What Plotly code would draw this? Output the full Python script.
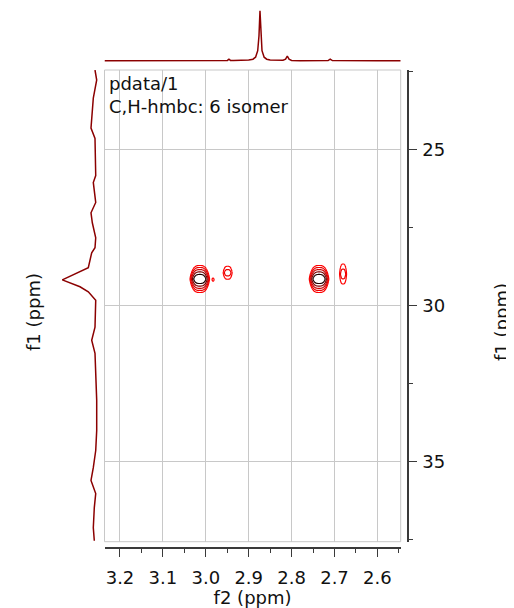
import numpy as np
import plotly.graph_objects as go

# page is 514x608; the html body adds an 8px margin, so the figure is drawn 8px in
OFF = 8
W, H = 514 - OFF, 608 - OFF

# ---------------- data ----------------
f2_range = [3.2361, 2.5457]          # ppm, left -> right
f1_range = [37.56, 22.46]            # ppm, bottom -> top

# 2D cross peaks (centre f2, centre f1, amplitude, width f2, width f1)
peak_f2 = [3.014, 2.736, 2.949, 2.680, 2.983]
peak_f1 = [29.15, 29.15, 28.95, 28.99, 29.17]
peak_amp = [1.0, 1.0, 0.12, 0.12, 0.06]
peak_wf2 = [0.0156, 0.0156, 0.0105, 0.0082, 0.0035]
peak_wf1 = [0.181, 0.181, 0.211, 0.325, 0.125]

contour_levels = [0.045, 0.081, 0.146, 0.262, 0.472, 0.85]

# top (f2) projection
top_ppm = [3.2361, 3.10, 3.00, 2.960, 2.9495, 2.946, 2.9425, 2.935, 2.920, 2.900,
           2.890, 2.884, 2.879, 2.876, 2.8737, 2.8715, 2.869, 2.864, 2.858, 2.850,
           2.835, 2.820, 2.814, 2.810, 2.806, 2.800, 2.780, 2.715, 2.710, 2.705, 2.60, 2.5457]
top_int = [0.0, 0.0, 0.0, 0.002, 0.006, 0.03, 0.006, 0.003, 0.006, 0.015,
           0.03, 0.07, 0.2, 0.5, 1.0, 0.5, 0.2, 0.07, 0.03, 0.015,
           0.006, 0.01, 0.03, 0.094, 0.03, 0.006, 0.0, 0.002, 0.03, 0.002, 0.0, 0.0]

# left (f1) projection
left_ppm = [22.46, 22.78, 23.36, 24.32, 24.65, 25.51, 25.84, 26.06, 26.70, 27.03,
            27.35, 27.83, 28.15, 28.31, 28.79, 29.18, 29.40, 29.56, 29.83, 30.69,
            31.11, 31.53, 32.39, 33.03, 34.00, 34.64, 35.19, 35.60, 36.02, 36.47, 37.11, 37.53]
left_int = [0.058, 0.009, 0.107, 0.173, 0.058, 0.058, 0.037, 0.107, 0.037, 0.173,
            0.135, 0.037, 0.058, 0.153, 0.251, 1.0, 0.49, 0.251, 0.037, 0.058,
            0.153, 0.058, 0.037, 0.009, 0.009, 0.037, 0.107, 0.173, 0.037, 0.078, 0.107, 0.078]

# ---------------- build 2D field from peak list ----------------
xg = np.arange(3.08, 2.62, -0.001)
yg = np.arange(28.0, 30.4, 0.015)
X, Y = np.meshgrid(xg, yg)
Z = np.zeros_like(X)
for x0, y0, a, sx, sy in zip(peak_f2, peak_f1, peak_amp, peak_wf2, peak_wf1):
    Z += a * np.exp(-(np.abs((X - x0) / sx) ** 3 + np.abs((Y - y0) / sy) ** 1.3))
LZ = np.round(np.log(Z + 1e-12), 3)
lv = np.log(contour_levels)


def px(xs):
    return (xs - OFF) / W


def py(ys):
    return 1 - (ys - OFF) / H


FONT = "DejaVu Sans"
AX = "#3a3a3a"
GRID = "#c8c8c8"
PROJ = "#8b0000"
FS = 18

fig = go.Figure()
fig.add_trace(go.Contour(
    x=xg, y=yg, z=LZ,
    contours=dict(coloring="lines", start=lv[0], end=lv[-1] + 1e-6,
                  size=float(lv[1] - lv[0]), showlabels=False),
    colorscale=[[0, "#ff0000"], [0.45, "#d80000"], [0.75, "#800000"], [1, "#200000"]],
    zmin=lv[0], zmax=lv[-1], showscale=False, line=dict(width=1.2, smoothing=1),
    hoverinfo="skip", xaxis="x", yaxis="y"))

fig.add_trace(go.Scatter(x=top_ppm, y=top_int, mode="lines",
                         line=dict(color=PROJ, width=1.5), xaxis="x3", yaxis="y3",
                         hoverinfo="skip"))
fig.add_trace(go.Scatter(x=left_int, y=left_ppm, mode="lines",
                         line=dict(color=PROJ, width=1.5), xaxis="x2", yaxis="y2",
                         hoverinfo="skip"))

main_dom_x = [px(104.5), px(400.7)]
main_dom_y = [py(541.7), py(70)]

fig.update_layout(
    width=W, height=H, margin=dict(l=0, r=0, t=0, b=0),
    paper_bgcolor="white", plot_bgcolor="white", showlegend=False,
    font=dict(family=FONT, size=FS, color="#111"),
    xaxis=dict(domain=main_dom_x, range=f2_range, anchor="free", position=py(548),
               showgrid=True, gridcolor=GRID, gridwidth=1, zeroline=False,
               showline=True, linecolor=AX, linewidth=1.5,
               ticks="outside", ticklen=8, tickwidth=1.3, tickcolor=AX,
               tick0=0, dtick=0.1, tickformat=".1f", ticklabelstandoff=6,
               minor=dict(ticks="outside", ticklen=4, tickcolor=AX, dtick=0.05, tick0=0, showgrid=False),
               title=dict(text="f2 (ppm)", font=dict(size=FS), standoff=2)),
    yaxis=dict(domain=main_dom_y, range=f1_range, anchor="free", position=px(408), side="right",
               showgrid=True, gridcolor=GRID, gridwidth=1, zeroline=False,
               showline=True, linecolor=AX, linewidth=1.5,
               ticks="outside", ticklen=8, tickwidth=1.3, tickcolor=AX,
               tick0=0, dtick=5, ticklabelstandoff=2,
               minor=dict(ticks="outside", ticklen=4, tickcolor=AX, dtick=2.5, tick0=0, showgrid=False)),
    xaxis2=dict(domain=[px(58), px(101)], range=[1.124, -0.115], visible=False, anchor="y2"),
    yaxis2=dict(domain=main_dom_y, range=f1_range, visible=False, anchor="x2"),
    xaxis3=dict(domain=main_dom_x, range=f2_range, visible=False, anchor="y3"),
    yaxis3=dict(domain=[py(62), py(8)], range=[-0.026, 1.054], visible=False, anchor="x3"),
    shapes=[dict(type="rect", xref="x domain", yref="y domain", x0=0, x1=1, y0=0, y1=1,
                 line=dict(color=GRID, width=1), layer="below")],
    annotations=[
        dict(text="pdata/1", x=px(107), y=py(83), xref="paper", yref="paper",
             xanchor="left", yanchor="middle", showarrow=False, font=dict(size=FS)),
        dict(text="C,H-hmbc: 6 isomer", x=px(107), y=py(106), xref="paper", yref="paper",
             xanchor="left", yanchor="middle", showarrow=False, font=dict(size=FS)),
        dict(text="f1 (ppm)", x=px(33), y=py(312), xref="paper", yref="paper",
             xanchor="center", yanchor="middle",
             textangle=-90, showarrow=False, font=dict(size=FS)),
        dict(text="f1 (ppm)", x=px(501), y=py(322), xref="paper", yref="paper",
             xanchor="center", yanchor="middle",
             textangle=-90, showarrow=False, font=dict(size=FS)),
    ],
)

fig.write_html("out.html")
